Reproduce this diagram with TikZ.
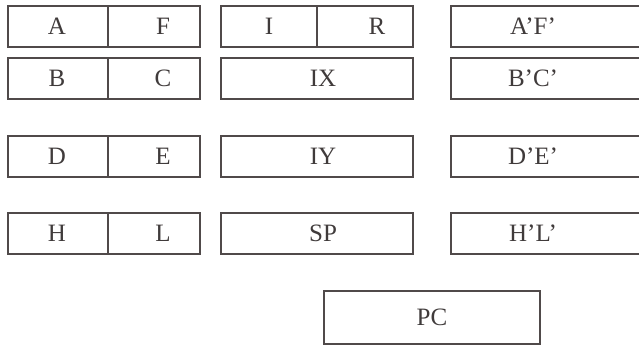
\documentclass[tikz,border=0pt]{standalone}
\usepackage{fontspec}
\setmainfont{Liberation Serif}
\usepackage{xcolor}
\definecolor{inkgray}{HTML}{504A4A}
\definecolor{textgray}{HTML}{403B3B}

\begin{document}
\begin{tikzpicture}[
        x=1pt, y=-1pt,
        reg/.style={draw=inkgray, line width=1.8pt, anchor=north west, inner sep=0pt,
                    minimum height=41pt},
        txt/.style={text=textgray, font=\fontsize{25}{27}\selectfont, inner sep=0pt}
      ]
        \useasboundingbox (0,0) rectangle (639,346);
        \clip (0,0) rectangle (639,346);
        % Main register pairs
        \node[reg, minimum width=100pt] (A) at (7,5) {};
        \node[reg, minimum width=92pt]  (F) at (107,5) {};
        \node[reg, minimum width=100pt] (B) at (7,57) {};
        \node[reg, minimum width=92pt]  (C) at (107,57) {};
        \node[reg, minimum width=100pt] (D) at (7,135) {};
        \node[reg, minimum width=92pt]  (E) at (107,135) {};
        \node[reg, minimum width=100pt] (H) at (7,212) {};
        \node[reg, minimum width=92pt]  (L) at (107,212) {};
        % Special registers
        \node[reg, minimum width=96pt]  (I)  at (220,5) {};
        \node[reg, minimum width=96pt]  (R)  at (316,5) {};
        \node[reg, minimum width=192pt] (IX) at (220,57) {};
        \node[reg, minimum width=192pt] (IY) at (220,135) {};
        \node[reg, minimum width=192pt] (SP) at (220,212) {};
        % Alternate register set (runs off the right edge)
        \node[reg, minimum width=200pt] (AFp) at (450,5) {};
        \node[reg, minimum width=200pt] (BCp) at (450,57) {};
        \node[reg, minimum width=200pt] (DEp) at (450,135) {};
        \node[reg, minimum width=200pt] (HLp) at (450,212) {};
        % Program counter
        \node[reg, minimum width=216pt, minimum height=53pt] (PC) at (323,290) {};

        % Labels
        \node[txt] (tA) at (57,26) {A};
        \node[txt] (tF) at (163,26) {F};
        \node[txt] (tB) at (57,78) {B};
        \node[txt] (tC) at (163,78) {C};
        \node[txt] (tD) at (57,156) {D};
        \node[txt] (tE) at (163,156) {E};
        \node[txt] (tH) at (57,233) {H};
        \node[txt] (tL) at (163,233) {L};
        \node[txt] (tI) at (269,26) {I};
        \node[txt] (tR) at (377,26) {R};
        \node[txt] (tIX) at (323,78) {IX};
        \node[txt] (tIY) at (323,156) {IY};
        \node[txt] (tSP) at (323,233) {SP};
        \node[txt] (tAFp) at (533,26) {A'F'};
        \node[txt] (tBCp) at (533,78) {B'C'};
        \node[txt] (tDEp) at (533,156) {D'E'};
        \node[txt] (tHLp) at (533,233) {H'L'};
        \node[txt] (tPC) at (432,317) {PC};
      \end{tikzpicture}
\end{document}
